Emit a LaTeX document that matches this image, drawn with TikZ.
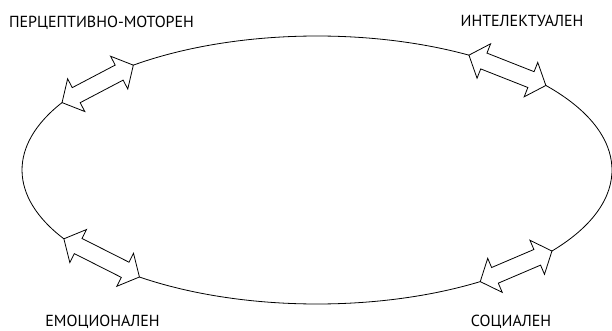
\documentclass[tikz,border=0pt]{standalone}
\usepackage{fontspec}
\setmainfont{PT Sans}
\usetikzlibrary{calc}
\tikzset{
  lbl/.style={font=\fontsize{16}{18}\selectfont, inner sep=0pt, anchor=base},
  ring/.style={line width=0.8pt},
  dblar/.style={draw, line width=0.8pt, line join=miter},
}
\newcommand\dblarrow[2]{%
  \path let \p1=($(#2)-(#1)$), \n1={atan2(\y1,\x1)}, \n2={veclen(\x1,\y1)} in \pgfextra{\xdef\arrang{\n1}\xdef\arrlen{\n2}};
  \begin{scope}[shift={(#1)}, rotate=\arrang]
    \draw[dblar] (0,0) -- (16,18.5) -- (16,8.5) -- ({\arrlen-16},8.5) -- ({\arrlen-16},18.5) -- ({\arrlen},0)
      -- ({\arrlen-16},-18.5) -- ({\arrlen-16},-8.5) -- (16,-8.5) -- (16,-18.5) -- cycle;
  \end{scope}}
\begin{document}
\begin{tikzpicture}[x=1pt,y=1pt]
\useasboundingbox (0,0) rectangle (612,330);
\coordinate (c) at (317,160);
\coordinate (tlA) at ($(c)+(149.8:295 and 134)$);
\coordinate (tlB) at ($(c)+(128.5:295 and 134)$);
\coordinate (trA) at ($(c)+(59:295 and 134)$);
\coordinate (trB) at ($(c)+(39.1:295 and 134)$);
\coordinate (blA) at ($(c)+(210.9:295 and 134)$);
\coordinate (blB) at ($(c)+(233:295 and 134)$);
\coordinate (brA) at ($(c)+(303.6:295 and 134)$);
\coordinate (brB) at ($(c)+(322.8:295 and 134)$);
\draw[ring] (tlB) arc[start angle=128.5, end angle=59, x radius=295, y radius=134];
\draw[ring] (tlA) arc[start angle=149.8, end angle=210.9, x radius=295, y radius=134];
\draw[ring] (blB) arc[start angle=233, end angle=303.6, x radius=295, y radius=134];
\draw[ring] (brB) arc[start angle=322.8, end angle=399.1, x radius=295, y radius=134];
\dblarrow{tlA}{tlB}
\dblarrow{trA}{trB}
\dblarrow{blA}{blB}
\dblarrow{brA}{brB}
\node[lbl] (pm) at (101.5,302) {ПЕРЦЕПТИВНО-МОТОРЕН};
\node[lbl] (in) at (522,303) {ИНТЕЛЕКТУАЛЕН};
\node[lbl] (em) at (102.5,3.5) {ЕМОЦИОНАЛЕН};
\node[lbl] (so) at (511,3.5) {СОЦИАЛЕН};
\end{tikzpicture}
\end{document}
